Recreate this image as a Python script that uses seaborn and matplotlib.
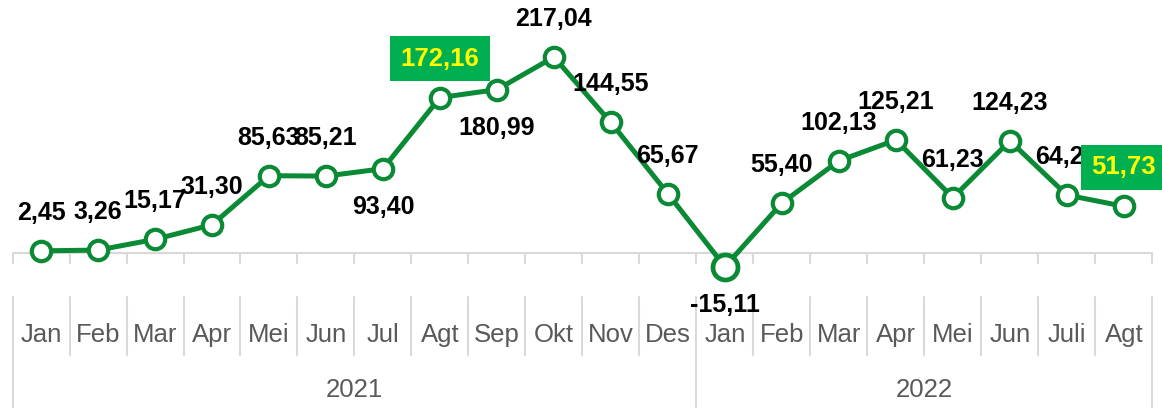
import matplotlib
matplotlib.use("Agg")
import matplotlib.pyplot as plt
import matplotlib.transforms as mtransforms
import seaborn as sns
import pandas as pd

# data
months = ["Jan", "Feb", "Mar", "Apr", "Mei", "Jun", "Jul", "Agt", "Sep", "Okt", "Nov", "Des",
          "Jan", "Feb", "Mar", "Apr", "Mei", "Jun", "Juli", "Agt"]
years = ["2021"] * 12 + ["2022"] * 8
values = [2.45, 3.26, 15.17, 31.30, 85.63, 85.21, 93.40, 172.16, 180.99, 217.04, 144.55, 65.67,
          -15.11, 55.40, 102.13, 125.21, 61.23, 124.23, 64.25, 51.73]
below = [6, 8, 12]          # labels placed under the point
highlight = [7, 19]         # labels in a green box
big_marker = [12]

df = pd.DataFrame({"idx": range(len(values)), "month": months, "year": years, "value": values})

sns.set_style("white")
plt.rcParams["font.family"] = ["Liberation Sans", "DejaVu Sans"]

GREEN = "#0a8a35"
fig = plt.figure(figsize=(11.62, 4.08), dpi=100)
ax = fig.add_axes([0, 0, 1, 1])
ax.set_xlim(-0.72, 19.67)
ax.set_ylim(-171.6, 280.2)
ax.axis("off")

sns.lineplot(data=df, x="idx", y="value", ax=ax, color=GREEN, lw=3.6, marker="o",
             markersize=14, markerfacecolor="white", markeredgecolor=GREEN,
             markeredgewidth=3, zorder=3)
big = df.iloc[big_marker]
ax.plot(big["idx"], big["value"], "o", ms=18, mfc="white", mec=GREEN, mew=3.4, zorder=4)

# horizontal axis and ticks
n = len(values)
ax.hlines(0, -0.5, n - 0.5, color="#d9d9d9", lw=1.5, zorder=1)
trans = mtransforms.blended_transform_factory(ax.transData, ax.transAxes)
for b in range(n + 1):
    xb = b - 0.5
    ax.plot([xb, xb], [0, -11], color="#d9d9d9", lw=1.5, zorder=1)
    outer = b in (0, 12, n)
    ax.plot([xb, xb], [0.272, 0.0 if outer else 0.130], color="#d9d9d9", lw=1.5,
            transform=trans, zorder=1)

for i, m in enumerate(months):
    ax.text(i, 0.179, m, transform=trans, ha="center", va="center", fontsize=18.5, color="#595959")
for yr in ["2021", "2022"]:
    pos = df.loc[df["year"] == yr, "idx"]
    ax.text(pos.mean(), 0.044, yr, transform=trans, ha="center", va="center",
            fontsize=18.5, color="#595959")

# data labels
for i, v in enumerate(values):
    txt = f"{v:.2f}".replace(".", ",")
    off = -38 if i in below else 38
    if i in highlight:
        ax.annotate(txt, (i, v), xytext=(0, 28), textcoords="offset points", ha="center",
                    va="center", fontsize=18.5, fontweight="bold", color="#ffff00", zorder=6,
                    bbox=dict(boxstyle="square,pad=0.42", fc="#00b050", ec="none"))
    else:
        ax.annotate(txt, (i, v), xytext=(0, off * 0.72), textcoords="offset points",
                    ha="center", va="center", fontsize=18, fontweight="bold", color="black",
                    zorder=5)

fig.savefig("out.png", dpi=100)
